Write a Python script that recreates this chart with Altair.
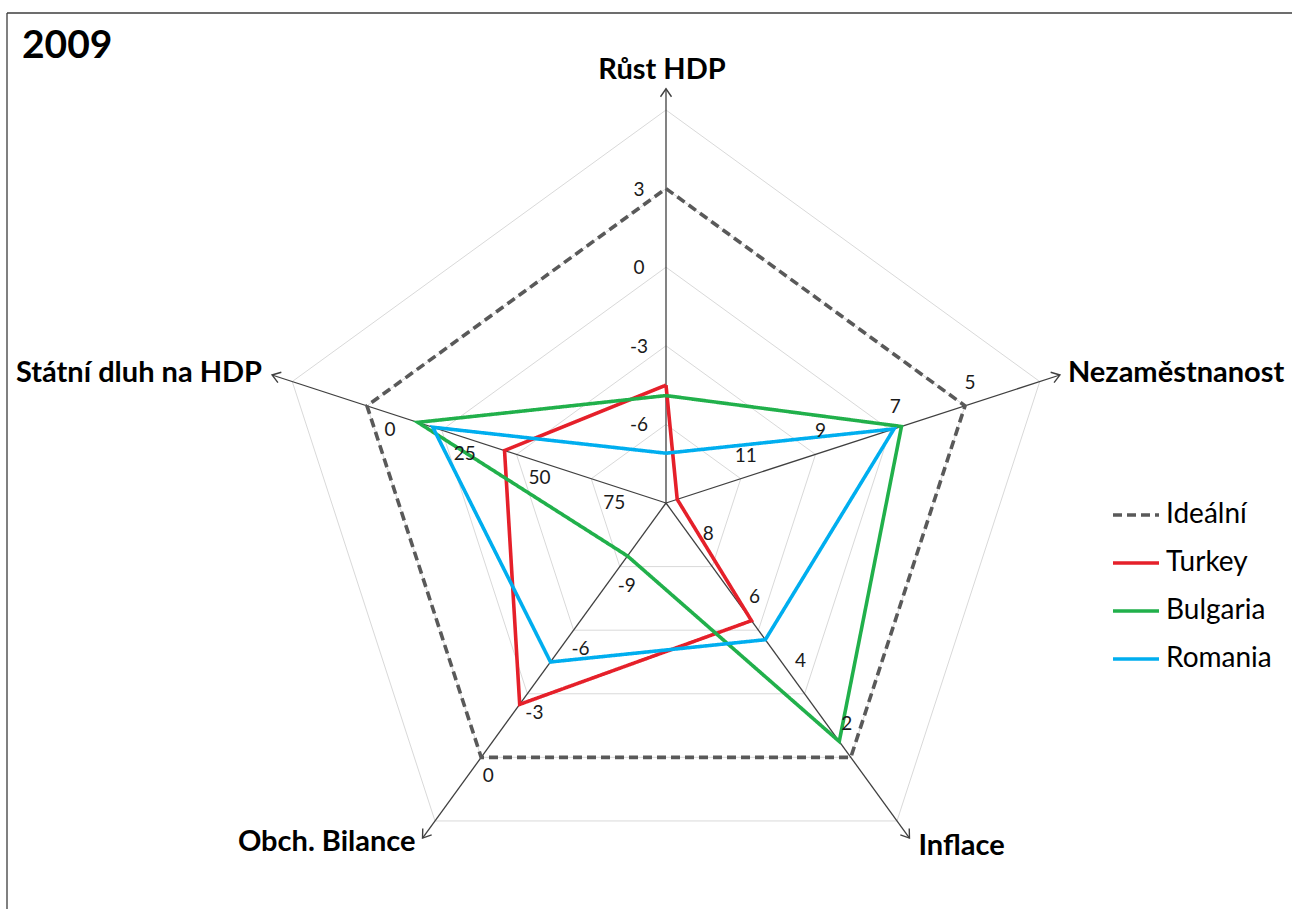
import math
import altair as alt
import pandas as pd

# Spokes of the radar, clockwise from the top
axes = ["Růst HDP", "Nezaměstnanost", "Inflace", "Obch. Bilance", "Státní dluh na HDP"]
ring_base = [-9, 13, 10, -12, 100]   # value at the centre of each spoke
ring_step = [3, -2, -2, 3, -25]      # change in value per ring

series_names = ["Ideální", "Turkey", "Bulgaria", "Romania"]
series_colors = ["#595959", "#E5202A", "#21B04B", "#00AEEF"]
ideal = [3, 5, 2, 0, 0]
turkey = [-4.5, 12.7, 6.3, -2.5, 46]
bulgaria = [-4.9, 6.7, 2.5, -9.5, 17]
romania = [-7.1, 6.9, 5.7, -4.5, 22]

# Ring labels printed along each spoke (rings 1-4)
tick_labels = [
    [-6, -3, 0, 3],
    [11, 9, 7, 5],
    [8, 6, 4, 2],
    [-9, -6, -3, 0],
    [75, 50, 25, 0],
]

# ---- layout (pixels) ----
PAD_L, PAD_T = 7, 13
PW, PH = 1285, 896          # plot area
CX, CY = 659, 490           # centre of the radar inside the plot area
U = 78.6                    # pixels per ring
N_RINGS = 5
TIP = 5.27                  # spoke length in rings (arrow tip)

xs = alt.Scale(domain=[-CX / U, (PW - CX) / U], nice=False, zero=False)
ys = alt.Scale(domain=[-(PH - CY) / U, CY / U], nice=False, zero=False)
FONT = "Lato"
FRAME = "#3C3C3C"


def polar(k, j):
    t = math.radians(72 * j)
    return k * math.sin(t), k * math.cos(t)


# grid pentagons
grid_rows = []
for ring in range(1, N_RINGS + 1):
    for i in range(6):
        x, y = polar(ring, i % 5)
        grid_rows.append(dict(ring=ring, order=i, x=x, y=y))
grid_df = pd.DataFrame(grid_rows)

# spokes and arrow heads
spoke_rows = []
for j, name in enumerate(axes):
    x, y = polar(TIP, j)
    spoke_rows.append(dict(axis=name, x0=0.0, y0=0.0, x=x, y=y, rot=72 * j))
spoke_df = pd.DataFrame(spoke_rows)

# series polygons
series_rows = []
for name, vals in zip(series_names, [ideal, turkey, bulgaria, romania]):
    for i in range(6):
        j = i % 5
        k = (vals[j] - ring_base[j]) / ring_step[j]
        x, y = polar(k, j)
        series_rows.append(dict(series=name, order=i, axis=axes[j], value=vals[j], x=x, y=y))
series_df = pd.DataFrame(series_rows)

# ring value labels, nudged off their spoke (dx, dy in pixels)
tick_nudge = [(-27, 1), (5, -23), (-4, -33), (7, 19), (23, 24)]
tick_rows = []
for j, labels in enumerate(tick_labels):
    for v in labels:
        k = (v - ring_base[j]) / ring_step[j]
        x, y = polar(k, j)
        dx, dy = tick_nudge[j]
        tick_rows.append(dict(label=str(v), x=x + dx / U, y=y - dy / U))
tick_df = pd.DataFrame(tick_rows)

# spoke names at the arrow tips
name_nudge = [(-4, -19, "center"), (8, -2, "left"), (9, 8, "left"), (-7, 4, "right"), (-10, -2, "right")]
name_rows = []
for j, name in enumerate(axes):
    x, y = polar(TIP, j)
    dx, dy, al = name_nudge[j]
    name_rows.append(dict(label=name, x=x + dx / U, y=y - dy / U, align=al))
name_df = pd.DataFrame(name_rows)

X = lambda f="x": alt.X(f"{f}:Q", scale=xs, axis=None)
Y = lambda f="y": alt.Y(f"{f}:Q", scale=ys, axis=None)

# frame: top and left edges only (the others run past the page)
frame_df = pd.DataFrame({"edge": ["top", "left"]})
frame_top = alt.Chart(frame_df).transform_filter(alt.datum.edge == "top").mark_rule(
    color=FRAME, strokeWidth=1.3
).encode(x=alt.value(0), x2=alt.value(PW + 10), y=alt.value(0))
frame_left = alt.Chart(frame_df).transform_filter(alt.datum.edge == "left").mark_rule(
    color=FRAME, strokeWidth=1.3
).encode(x=alt.value(0), y=alt.value(0), y2=alt.value(PH + 10))

grid = alt.Chart(grid_df).mark_line(color="#D9D9D9", strokeWidth=1).encode(
    x=X(), y=Y(), detail="ring:N", order="order:Q"
)

spokes = alt.Chart(spoke_df).mark_rule(color="#404040", strokeWidth=1.3).encode(
    x=X("x0"), y=Y("y0"), x2="x:Q", y2="y:Q"
)

arrows = alt.Chart(spoke_df).mark_point(
    shape="M-1,1.45L0,0L1,1.45", filled=False, color="#404040",
    strokeWidth=1.4, size=121, opacity=1
).encode(x=X(), y=Y(), angle=alt.Angle("rot:Q", scale=None))

legend = alt.Legend(
    title=None, orient="none", legendX=1104, legendY=477,
    symbolType="stroke", symbolSize=2116, symbolStrokeWidth=3.6,
    labelFont=FONT, labelFontSize=28, labelColor="#000000",
    labelOffset=5, rowPadding=9, padding=0,
)

lines = alt.Chart(series_df).mark_line(strokeWidth=3.6, strokeMiterLimit=4).encode(
    x=X(), y=Y(), order="order:Q",
    color=alt.Color("series:N", scale=alt.Scale(domain=series_names, range=series_colors), legend=legend),
    strokeDash=alt.StrokeDash(
        "series:N",
        scale=alt.Scale(domain=series_names, range=[[9, 5], [1, 0], [1, 0], [1, 0]]),
        legend=legend,
    ),
)

ticks = alt.Chart(tick_df).mark_text(
    font=FONT, fontSize=19, color="#1A1A1A", align="center", baseline="middle"
).encode(x=X(), y=Y(), text="label:N")

names = [
    alt.Chart(name_df).transform_filter(alt.datum.align == al).mark_text(
        font=FONT, fontSize=29, fontWeight="bold", color="#000000", align=al, baseline="middle"
    ).encode(x=X(), y=Y(), text="label:N")
    for al in ["center", "left", "right"]
]

year = alt.Chart(pd.DataFrame({"t": ["2009"]})).mark_text(
    font=FONT, fontSize=39, fontWeight="bold", color="#000000", align="left", baseline="middle"
).encode(x=alt.value(15), y=alt.value(33), text="t:N")

chart = alt.layer(frame_top, frame_left, grid, spokes, arrows, lines, ticks, *names, year).properties(
    width=PW, height=PH,
    background="#FFFFFF",
    padding={"left": PAD_L, "top": PAD_T, "right": 0, "bottom": 0},
    autosize=alt.AutoSizeParams(type="none"),
).configure_view(strokeWidth=0)

chart.save("out.html", embed_options={"renderer": "svg", "actions": False})
